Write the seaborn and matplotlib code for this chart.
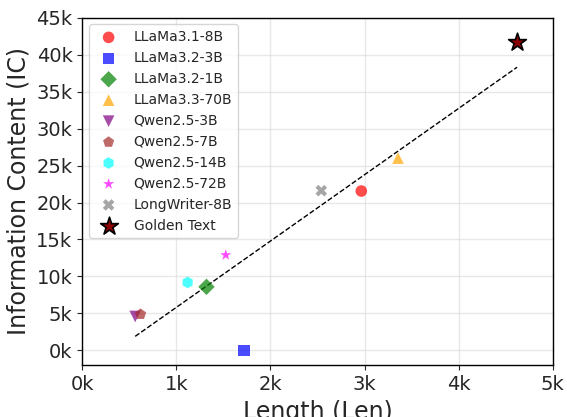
import numpy as np
import pandas as pd
import matplotlib
matplotlib.use("Agg")
import matplotlib.pyplot as plt
from matplotlib.ticker import FuncFormatter, MultipleLocator
import seaborn as sns

sns.set_style("ticks")
plt.rcParams["font.family"] = ["DejaVu Sans"]

# data
models = ["LLaMa3.1-8B", "LLaMa3.2-3B", "LLaMa3.2-1B", "LLaMa3.3-70B",
          "Qwen2.5-3B", "Qwen2.5-7B", "Qwen2.5-14B", "Qwen2.5-72B",
          "LongWriter-8B", "Golden Text"]
length = [2965, 1720, 1320, 3355, 563, 620, 1120, 1525, 2540, 4620]
info_content = [21550, 0, 8600, 26000, 4600, 4900, 9200, 12900, 21600, 41700]

colors = ["red", "blue", "green", "orange", "purple", "brown", "cyan",
          "magenta", "gray", "darkred"]
markers = ["o", "s", "D", "^", "v", "p", "h", "*", "X", "*"]

df = pd.DataFrame({"model": models, "len": length, "ic": info_content})

fig, ax = plt.subplots(figsize=(5.67, 4.17), dpi=100)

for i, row in df.iterrows():
    if row["model"] == "Golden Text":
        sns.scatterplot(x=[row["len"]], y=[row["ic"]], marker=markers[i],
                        color=colors[i], s=180, edgecolor="black", linewidth=1.2,
                        label=row["model"], ax=ax, zorder=4)
    else:
        sns.scatterplot(x=[row["len"]], y=[row["ic"]], marker=markers[i],
                        color=colors[i], s=70, alpha=0.7, edgecolor="none",
                        label=row["model"], ax=ax, zorder=3)

# linear trend over all points
k, b = np.polyfit(df["len"], df["ic"], 1)
xs = np.array([df["len"].min(), df["len"].max()])
ax.plot(xs, k * xs + b, linestyle="--", color="black", linewidth=1, zorder=2)

ax.set_xlim(0, 5000)
ax.set_ylim(-2000, 45000)
ax.xaxis.set_major_locator(MultipleLocator(1000))
ax.yaxis.set_major_locator(MultipleLocator(5000))
kfmt = FuncFormatter(lambda v, p: f"{int(round(v / 1000))}k")
ax.xaxis.set_major_formatter(kfmt)
ax.yaxis.set_major_formatter(kfmt)
ax.tick_params(labelsize=14)
ax.grid(True, color="#d9d9d9", alpha=0.6, linewidth=1)
ax.set_xlabel("Length (Len)", fontsize=17)
ax.set_ylabel("Information Content (IC)", fontsize=17)
for sp in ax.spines.values():
    sp.set_color("black")
    sp.set_linewidth(1.0)

ax.legend(loc="upper left", fontsize=10, frameon=True)

fig.subplots_adjust(left=0.145, right=0.975, top=0.958, bottom=0.124)
fig.savefig("out.png", dpi=100)
